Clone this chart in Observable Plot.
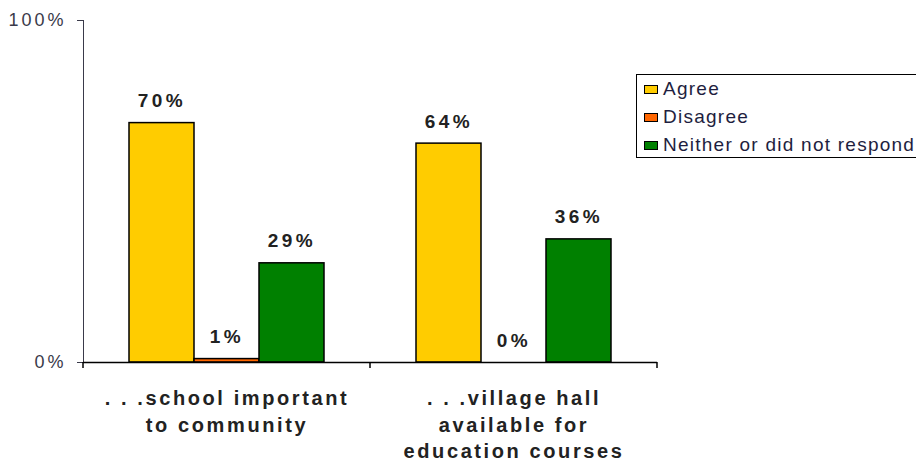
<!DOCTYPE html>
<html>
<head>
<meta charset="utf-8">
<script src="https://cdn.jsdelivr.net/npm/d3@7"></script>
<script src="https://cdn.jsdelivr.net/npm/@observablehq/plot@0.6"></script>
<style>
  html, body { margin: 0; padding: 0; background: white; }
  #wrap { position: relative; width: 916px; height: 463px; overflow: hidden; }
  #legend { position: absolute; left: 636px; top: 74px; width: 320px; height: 84px; box-sizing: border-box;
            border: 1.5px solid #000; border-right: none; overflow: hidden;
            font-family: "Liberation Sans", Arial, sans-serif; font-size: 19px; color: #1e1e40; background: white; }
  .row { display: flex; align-items: center; height: 28px; letter-spacing: 1.25px; white-space: nowrap; }
  .sw { width: 12px; height: 7px; border: 1.3px solid #000; margin: 0 5px 0 7px; flex: none; }
</style>
</head>
<body>
<div id="wrap"><div id="legend"></div></div>
<script>
const categories = ["school", "village"];
const categoryLabels = [". . .school important\nto community", ". . .village hall\navailable for\neducation courses"];
const responses = ["Agree", "Disagree", "Neither or did not respond"];
const agree = [70, 64];
const disagree = [1, 0];
const neither = [29, 36];
const colors = ["#FFCC00", "#FF6600", "#008000"];
const yTicks = [0, 100];

const rows = categories.flatMap((c, i) =>
  [agree[i], disagree[i], neither[i]].map((v, j) => ({category: c, label: categoryLabels[i], response: responses[j], value: v}))
);

const chart = Plot.plot({
  width: 916, height: 463,
  marginLeft: 82, marginRight: 259, marginTop: 20, marginBottom: 101,
  style: {fontFamily: "Liberation Sans, Arial, sans-serif", fontSize: "18px", letterSpacing: "3px", background: "white", overflow: "visible", color: "#3a3a4a"},
  fx: {domain: categories, padding: 0, axis: null},
  x: {domain: responses, padding: 0, insetLeft: 46, insetRight: 46, axis: null},
  y: {domain: [0, 100], ticks: yTicks, tickFormat: d => d + "%", tickSize: 6, tickPadding: 11, line: true, label: null},
  color: {domain: responses, range: colors},
  facet: {data: rows, x: "category"},
  marks: [
    Plot.barY(rows, {filter: d => d.value > 0, x: "response", y: "value", fill: "response", stroke: "black", strokeWidth: 1.5}),
    Plot.ruleY([0], {stroke: "black", strokeWidth: 1.5}),
    Plot.text(rows, {x: "response", y: "value", text: d => d.value + "%", lineAnchor: "bottom", dy: -16,
      fontWeight: "bold", fontSize: 19, fill: "#222"}),
    Plot.text(rows, Plot.selectFirst({text: "label", frameAnchor: "bottom", lineAnchor: "top", dy: 24,
      lineHeight: 1.32, fontWeight: "bold", fontSize: 20, fill: "#222"}))
  ]
});

// letter spacing of the bold labels (value labels first, then category labels)
const textGroups = d3.select(chart).selectAll("g[aria-label='text']");
textGroups.each(function(_, i) {
  d3.select(this).attr("letter-spacing", i === 0 ? "3.5px" : "2.6px");
});

// boundary ticks under the x axis, from the library's fx and y scales
const fx = chart.scale("fx");
const ys = chart.scale("y");
const edges = categories.map(c => fx.apply(c)).concat([fx.apply(categories[categories.length - 1]) + fx.bandwidth]);
const y0 = ys.apply(0);
d3.select(chart).append("g").selectAll("line").data(edges).join("line")
  .attr("x1", d => d).attr("x2", d => d).attr("y1", y0).attr("y2", y0 + 6)
  .attr("stroke", "black").attr("stroke-width", 1.5);

document.getElementById("wrap").prepend(chart);

const legend = document.getElementById("legend");
responses.forEach((r, i) => {
  const row = document.createElement("div");
  row.className = "row";
  const sw = document.createElement("span");
  sw.className = "sw";
  sw.style.background = colors[i];
  const t = document.createElement("span");
  t.textContent = r;
  row.append(sw, t);
  legend.append(row);
});
</script>
</body>
</html>
